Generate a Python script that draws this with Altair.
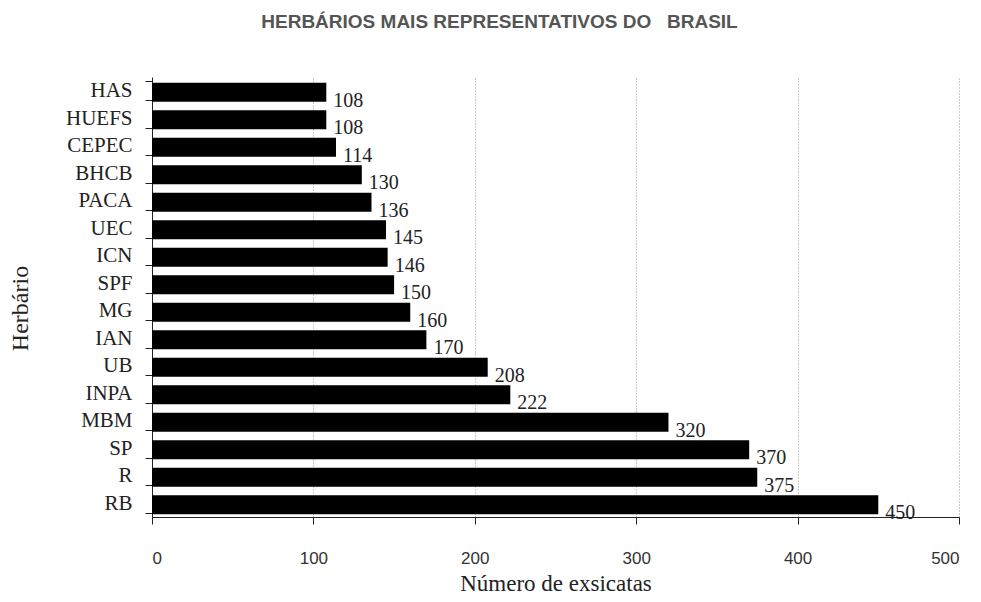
import altair as alt
import pandas as pd

categories = ["HAS", "HUEFS", "CEPEC", "BHCB", "PACA", "UEC", "ICN", "SPF",
              "MG", "IAN", "UB", "INPA", "MBM", "SP", "R", "RB"]
values = [108, 108, 114, 130, 136, 145, 146, 150, 160, 170, 208, 222, 320, 370, 375, 450]
x_ticks = [0, 100, 200, 300, 400, 500]

df = pd.DataFrame({"herbario": categories, "n": values})

serif = "Liberation Serif"

y_enc = alt.Y(
    "herbario:N",
    sort=categories,
    scale=alt.Scale(paddingInner=0.31),
    axis=alt.Axis(
        title="Herbário",
        titleFont=serif, titleFontSize=24, titleFontWeight="normal", titleColor="#222",
        titleX=-120, titleY=231,
        labelFont=serif, labelFontSize=21, labelColor="#222", labelPadding=13,
        tickBand="extent", tickSize=7, tickColor="#222", domainColor="#222",
        grid=False,
    ),
)
x_enc = alt.X(
    "n:Q",
    scale=alt.Scale(domain=[0, 500], nice=False),
    axis=alt.Axis(
        title="Número de exsicatas",
        titleFont=serif, titleFontSize=23, titleFontWeight="normal", titleColor="#222",
        titlePadding=6,
        values=x_ticks, format="d",
        labelFont="Liberation Sans", labelFontSize=17, labelColor="#333", labelPadding=26,
        tickSize=7, tickColor="#222", domainColor="#222",
        grid=True, gridDash=[1, 2], gridColor="#999",
    ),
)

bars = alt.Chart(df).mark_bar(color="black", yOffset=1.5).encode(x=x_enc, y=y_enc)

labels = alt.Chart(df).mark_text(
    align="left", baseline="middle", dx=7, dy=10,
    font=serif, fontSize=20, color="#222",
).encode(x="n:Q", y=alt.Y("herbario:N", sort=categories), text="n:Q")

chart = (bars + labels).properties(
    width=807,
    height=440,
    title=alt.TitleParams(
        "HERBÁRIOS MAIS REPRESENTATIVOS DO\u00a0\u00a0\u00a0BRASIL",
        font="Liberation Sans", fontSize=19, fontWeight="bold", color="#555",
        anchor="middle", dx=-56, offset=15, baseline="bottom",
    ),
    autosize=alt.AutoSizeParams(type="none"),
    padding={"left": 144, "top": 69, "right": 5, "bottom": 77},
).configure_view(stroke=None)

chart.save("out.html", embed_options={"renderer": "svg", "actions": False})
